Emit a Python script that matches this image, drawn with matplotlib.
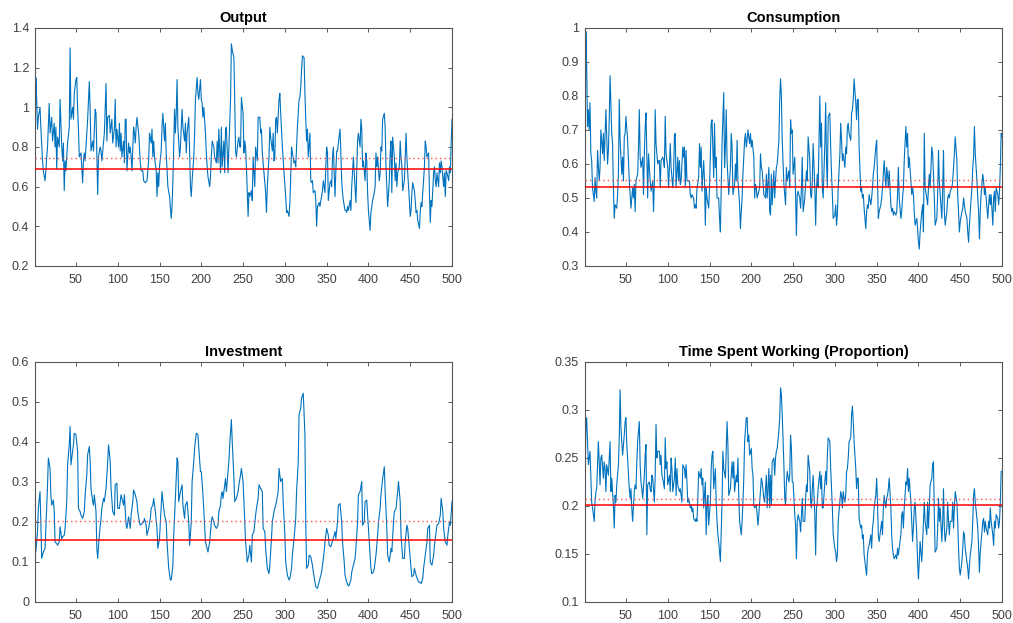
import matplotlib
matplotlib.use("Agg")
import matplotlib.pyplot as plt
from matplotlib.ticker import FuncFormatter

plt.rcParams['font.family'] = ['Liberation Sans', 'DejaVu Sans']

# ---------------- data (period, value) ----------------
output_pts = [
(1,0.72),(2,1.15),(3,1.04),(4,0.89),(5,0.95),(7,1.00),(8,0.90),(10,0.73),(11,0.68),(13,0.63),(14,0.68),(15,0.75),(16,0.80),(18,1.02),(19,0.87),(21,0.95),(22,0.83),(24,0.92),(25,0.80),(26,0.90),(27,0.69),(28,0.85),(30,0.80),(31,1.04),(33,0.80),(34,0.73),(35,0.82),(36,0.58),(37,0.73),(38,0.68),(40,0.82),(42,0.90),(43,1.30),(44,0.94),(46,1.00),(47,0.94),(48,1.07),(50,1.14),(51,1.15),(52,0.99),(53,0.89),(54,0.75),(56,0.77),(58,0.62),(59,0.73),(60,0.77),(61,0.73),(62,0.80),(64,0.94),(66,1.13),(67,0.99),(68,0.78),(70,0.83),(71,0.78),(73,0.99),(74,0.97),(76,0.56),(77,0.75),(79,0.80),(80,0.78),(81,0.73),(83,0.82),(84,0.87),(86,1.12),(87,0.83),(88,0.95),(90,0.96),(91,0.87),(93,0.94),(94,0.82),(96,0.89),(97,1.04),(98,0.80),(99,0.89),(101,0.80),(102,0.92),(103,0.78),(104,0.87),(105,0.75),(107,0.83),(108,0.72),(109,0.94),(110,0.94),(111,0.68),(113,0.82),(114,0.77),(115,0.80),(116,0.75),(117,0.68),(119,0.90),(120,0.87),(121,0.82),(122,0.90),(123,0.95),(125,0.87),(126,0.80),(127,0.72),(128,0.68),(130,0.68),(131,0.63),(133,0.62),(135,0.63),(136,0.68),(137,0.73),(138,0.87),(140,0.82),(141,0.89),(142,0.75),(143,0.83),(144,0.75),(146,0.68),(147,0.55),(148,0.67),(149,0.60),(150,0.70),(152,0.78),(153,0.90),(154,0.97),(156,0.83),(157,0.92),(158,0.77),(159,0.68),(160,0.60),(162,0.55),(163,0.50),(164,0.44),(165,0.50),(166,0.63),(168,0.99),(169,0.87),(170,0.97),(171,1.14),(172,0.90),(174,0.75),(175,0.80),(176,0.90),(177,0.99),(178,0.90),(180,0.83),(181,0.92),(182,0.77),(183,0.87),(185,0.95),(186,0.77),(187,0.60),(188,0.55),(189,0.63),(191,0.75),(192,0.87),(193,1.04),(195,1.15),(196,1.07),(197,1.04),(199,1.14),(200,1.04),(201,1.02),(202,0.95),(203,1.00),(205,0.87),(206,0.77),(207,0.70),(208,0.65),(210,0.60),(211,0.65),(212,0.75),(213,0.83),(215,0.80),(216,0.75),(218,0.72),(219,0.83),(220,0.72),(221,0.89),(223,0.67),(224,0.90),(225,0.70),(227,0.83),(228,0.67),(229,0.89),(230,0.90),(232,0.67),(234,0.92),(235,1.04),(236,1.32),(237,1.29),(239,1.25),(240,1.04),(241,0.78),(242,0.75),(244,0.83),(245,0.85),(246,0.80),(247,0.80),(248,1.05),(250,0.97),(251,0.77),(252,0.83),(253,0.80),(254,0.70),(256,0.45),(257,0.57),
(258,0.55),(260,0.58),(261,0.53),(262,0.75),(264,0.60),(265,0.80),(267,0.73),(268,0.95),(270,0.95),(271,0.87),(272,0.89),(273,0.77),(275,0.67),(277,0.57),(278,0.47),(279,0.60),(281,0.75),(282,0.90),(283,0.85),(285,0.78),(286,0.87),(287,0.73),(288,0.75),(289,0.94),(290,0.95),(291,0.87),(293,1.04),(294,1.07),(295,0.97),(296,0.89),(297,0.80),(299,0.67),(301,0.55),(302,0.47),(303,0.48),(305,0.45),(306,0.52),(307,0.65),(308,0.80),(309,0.77),(311,0.72),(312,0.73),(313,0.70),(314,0.80),(315,0.90),(317,1.04),(318,1.05),(319,1.10),(320,1.19),(321,1.26),(323,1.25),(324,1.07),(325,0.94),(326,0.83),(327,0.89),(328,0.75),(330,0.87),(331,0.63),(332,0.62),(333,0.63),(334,0.57),(336,0.58),(337,0.53),(338,0.40),(339,0.50),(341,0.52),(342,0.50),(343,0.53),(344,0.55),(345,0.58),(346,0.63),(348,0.57),(349,0.70),(350,0.80),(351,0.77),(352,0.53),(354,0.62),(355,0.63),(356,0.60),(357,0.75),(358,0.80),(360,0.55),(361,0.68),(362,0.78),(363,0.78),(364,0.82),(366,0.89),(367,0.77),(368,0.63),(369,0.57),(370,0.53),(372,0.48),(373,0.48),(374,0.47),(375,0.50),(376,0.48),(378,0.53),(379,0.48),(380,0.60),(381,0.68),(382,0.75),(384,0.60),(385,0.52),(386,0.68),(387,0.83),(388,0.87),(390,0.80),(391,0.94),(392,0.89),(393,0.70),(394,0.73),(396,0.63),(397,0.77),(398,0.73),(399,0.57),(400,0.48),(402,0.38),(403,0.47),(404,0.50),(405,0.53),(407,0.57),(408,0.60),(409,0.77),(410,0.70),(411,0.75),(413,0.63),(414,0.67),(415,0.80),(416,0.78),(417,0.94),(419,0.97),(420,0.90),(421,0.70),(422,0.60),(423,0.50),(425,0.63),(426,0.77),(427,0.83),(428,0.57),(429,0.85),(431,0.75),(432,0.63),(433,0.72),(434,0.60),(435,0.67),(437,0.70),(438,0.83),(439,0.75),(440,0.70),(441,0.58),(443,0.63),(444,0.75),(445,0.87),(446,0.75),(447,0.67),(449,0.53),(450,0.45),(451,0.48),(452,0.57),(453,0.62),(455,0.58),(456,0.53),(457,0.47),(458,0.48),(459,0.43),(461,0.39),(462,0.47),(463,0.52),(464,0.50),(465,0.57),(467,0.70),(468,0.83),(469,0.80),(470,0.75),(472,0.77),(473,0.57),(474,0.42),(475,0.53),(476,0.50),(478,0.67),(479,0.70),(480,0.63),(481,0.60),(482,0.67),(484,0.60),(485,0.72),(486,0.67),(487,0.73),(488,0.70),(490,0.60),(491,0.67),(492,0.55),(493,0.68),(494,0.67),(496,0.63),(497,0.70),(498,0.67),(499,0.82),(500,0.94)]

consumption_pts = [
(1,0.54),(2,0.99),(3,0.89),(4,0.71),(5,0.76),(6,0.70),(7,0.78),(8,0.63),(9,0.61),(10,0.53),(12,0.49),(13,0.56),(14,0.52),(15,0.50),(16,0.64),(18,0.55),(19,0.59),(20,0.70),(22,0.63),(23,0.69),(24,0.61),(25,0.69),(26,0.76),(28,0.60),(29,0.64),(30,0.73),(31,0.86),(33,0.69),(34,0.66),(35,0.53),(36,0.44),(37,0.48),(39,0.47),(40,0.51),(41,0.57),(42,0.79),(43,0.67),(45,0.57),(46,0.62),(47,0.55),(48,0.68),(49,0.69),(50,0.74),(52,0.67),(53,0.61),(54,0.55),(55,0.51),(56,0.47),(58,0.53),(59,0.50),(60,0.54),(61,0.46),(62,0.55),(64,0.57),(65,0.65),(66,0.76),(67,0.62),(68,0.59),(70,0.62),(71,0.51),(72,0.63),(73,0.71),(74,0.75),(76,0.50),(77,0.63),(78,0.59),(79,0.55),(80,0.52),(82,0.55),(83,0.46),(84,0.55),(85,0.76),(86,0.66),(88,0.60),(89,0.61),(90,0.61),(91,0.53),(92,0.61),(94,0.62),(95,0.61),(96,0.59),(97,0.74),(98,0.63),(100,0.59),(101,0.53),(102,0.59),(103,0.66),(104,0.59),(106,0.53),(107,0.58),(108,0.68),(109,0.69),(110,0.53),(112,0.62),(113,0.55),(114,0.61),(115,0.54),(116,0.55),(118,0.65),(119,0.62),(120,0.65),(121,0.53),(122,0.64),(123,0.55),(125,0.55),(126,0.55),(127,0.51),(128,0.50),(129,0.51),(131,0.50),(132,0.47),(133,0.48),(134,0.47),(135,0.53),(137,0.56),(138,0.66),(139,0.59),(140,0.65),(141,0.52),(143,0.61),(144,0.55),(145,0.42),(146,0.53),(147,0.50),(149,0.47),(150,0.53),(151,0.62),(152,0.72),(153,0.73),(155,0.56),(156,0.72),(157,0.59),(158,0.62),(159,0.50),(161,0.50),(162,0.44),(163,0.40),(164,0.53),(165,0.66),(167,0.81),(168,0.59),(169,0.65),(170,0.76),(171,0.61),(173,0.51),(174,0.55),(175,0.59),(176,0.69),(177,0.65),(178,0.51),(180,0.54),(181,0.60),(182,0.55),(183,0.67),(184,0.55),(186,0.48),(187,0.41),(188,0.46),(189,0.50),(190,0.57),(192,0.67),(193,0.69),(194,0.65),(195,0.67),(196,0.70),(198,0.66),(199,0.69),(200,0.65),(201,0.67),(203,0.62),(204,0.50),(205,0.54),(206,0.53),(207,0.50),(208,0.51),(210,0.53),(211,0.63),(212,0.59),
(213,0.58),(215,0.51),(217,0.50),(218,0.57),(219,0.50),(221,0.59),(222,0.46),(223,0.45),(224,0.57),(225,0.48),(227,0.58),(228,0.50),(229,0.55),(230,0.59),(231,0.60),(233,0.67),(234,0.79),(235,0.85),(236,0.80),(237,0.67),(239,0.54),(240,0.51),(241,0.48),(242,0.59),(243,0.55),(245,0.58),(246,0.53),(247,0.73),(248,0.69),(249,0.70),(250,0.57),(252,0.62),(253,0.50),(254,0.39),(255,0.51),(256,0.52),(258,0.50),(259,0.47),(260,0.53),(261,0.62),(262,0.46),(264,0.50),(265,0.54),(266,0.58),(267,0.55),(268,0.68),(270,0.61),(271,0.51),(272,0.50),(273,0.55),(274,0.66),(276,0.53),(277,0.42),(278,0.53),(279,0.57),(280,0.53),(282,0.80),(283,0.65),(284,0.72),(285,0.53),(286,0.50),(288,0.66),(289,0.78),(290,0.61),(291,0.53),(292,0.74),(294,0.75),(295,0.65),(296,0.57),(297,0.51),(298,0.44),(300,0.45),(301,0.48),(302,0.42),(303,0.45),(304,0.53),(306,0.63),(307,0.72),(308,0.67),(309,0.61),(310,0.63),(312,0.59),(313,0.65),(314,0.63),(315,0.71),(316,0.72),(317,0.69),(319,0.67),(320,0.75),(321,0.76),(322,0.79),(323,0.85),(325,0.78),(326,0.73),(327,0.79),(328,0.79),(329,0.65),(331,0.52),(332,0.53),(333,0.50),(334,0.51),(335,0.47),(337,0.41),(338,0.46),(339,0.48),(340,0.47),(341,0.51),(343,0.48),(344,0.50),(345,0.53),(346,0.57),(347,0.59),(349,0.65),(350,0.67),(351,0.55),(352,0.44),(353,0.46),(355,0.48),(356,0.50),(357,0.53),(358,0.57),(359,0.61),(361,0.53),(362,0.59),(363,0.57),(364,0.53),(365,0.58),(367,0.48),(368,0.46),(369,0.47),(370,0.45),(371,0.46),(373,0.45),(374,0.46),(375,0.51),(376,0.59),(377,0.50),(379,0.44),(380,0.46),(381,0.50),(382,0.53),(383,0.61),(385,0.71),(386,0.65),(387,0.69),(388,0.59),(389,0.62),(391,0.55),(392,0.51),(393,0.53),(394,0.51),(395,0.46),(396,0.42),(398,0.44),(399,0.41),(400,0.37),(401,0.35),(402,0.40),(404,0.46),(405,0.48),(406,0.40),(407,0.69),(408,0.53),(410,0.50),(411,0.48),(412,0.53),(413,0.57),(414,0.53),(416,0.65),(417,0.63),(418,0.57),(419,0.50),(420,0.42),(422,0.44),(423,0.51),(424,0.64),(425,0.55),(426,0.51),(428,0.44),(429,0.53),(430,0.64),(431,0.46),(432,0.42),(434,0.46),(435,0.50),(436,0.51),(437,0.50),(438,0.52),(440,0.53),(441,0.55),(442,0.59),(443,0.63),(444,0.68),(446,0.61),(447,0.51),(448,0.46),(449,0.40),(450,0.43),(452,0.46),(453,0.47),(454,0.50),(455,0.48),(456,0.46),(458,0.44),(459,0.40),(460,0.37),(461,0.42),(462,0.46),(464,0.53),(465,0.59),(466,0.62),(467,0.71),(468,0.63),(470,0.55),(471,0.50),(472,0.46),(473,0.38),(474,0.46),(475,0.51),(477,0.57),(478,0.55),(479,0.51),(480,0.53),(481,0.50),(483,0.44),(484,0.48),(485,0.51),(486,0.48),(487,0.51),(489,0.42),(490,0.50),(491,0.52),(492,0.46),(493,0.53),(495,0.51),(496,0.48),(497,0.52),(498,0.59),(499,0.69),(500,0.68)]

investment_pts = [
(1,0.159),(2,0.125),(4,0.176),(5,0.234),(7,0.276),(8,0.200),(9,0.109),(11,0.125),(13,0.134),(14,0.184),(16,0.293),(17,0.360),(19,0.334),(20,0.268),(21,0.242),(23,0.255),(24,0.226),(25,0.150),(27,0.146),(28,0.142),(30,0.150),(31,0.188),(33,0.159),(34,0.163),(36,0.167),(37,0.184),(39,0.251),(40,0.343),(42,0.393),(43,0.439),(44,0.343),(45,0.360),(47,0.393),(48,0.422),(50,0.418),(52,0.376),(53,0.234),(55,0.226),(56,0.217),(58,0.209),(60,0.226),(61,0.268),(63,0.318),(64,0.368),(66,0.389),(67,0.351),(68,0.284),(70,0.251),(71,0.242),(72,0.268),(74,0.226),(75,0.134),(76,0.109),(78,0.167),(80,0.209),(81,0.234),(83,0.259),(84,0.251),(86,0.284),(88,0.351),(89,0.393),(91,0.351),(92,0.284),(94,0.226),(96,0.217),(97,0.293),(99,0.297),(100,0.234),(102,0.234),(104,0.268),(105,0.259),(107,0.242),(108,0.268),(110,0.192),(111,0.184),(113,0.213),(115,0.184),(116,0.217),(118,0.251),(119,0.280),(121,0.268),(123,0.251),(124,0.226),(126,0.200),(127,0.192),(129,0.196),(131,0.200),(132,0.209),(134,0.192),(135,0.167),(137,0.184),(139,0.209),(140,0.234),(142,0.242),(143,0.259),(145,0.226),(147,0.184),(148,0.134),(150,0.159),(151,0.200),(153,0.276),(155,0.234),(156,0.217),(158,0.200),(159,0.150),(161,0.084),(163,0.055),(164,0.055),(166,0.092),(167,0.167),(169,0.259),(171,0.360),(172,0.351),(173,0.251),(175,0.276),(177,0.293),(178,0.242),(180,0.209),(181,0.242),(183,0.251),(185,0.200),(186,0.142),(188,0.200),(189,0.301),(191,0.351),(192,0.384),(194,0.422),(196,0.418),(197,0.384),(199,0.326),(200,0.326),(202,0.268),(204,0.192),(205,0.150),(207,0.134),(208,0.125),(210,0.150),(212,0.200),(213,0.213),(215,0.200),(216,0.192),(218,0.184),(220,0.192),(221,0.226),(223,0.242),(224,0.268),(225,0.276),(226,0.259),(228,0.293),(229,0.309),(230,0.276),(231,0.301),(233,0.351),(234,0.393),(236,0.456),(237,0.401),(239,0.309),(240,0.251),(242,0.259),(244,0.276),(245,0.293),
(247,0.318),(248,0.334),(250,0.301),(251,0.251),(252,0.200),(253,0.150),(255,0.100),(257,0.117),(258,0.142),(260,0.100),(261,0.167),(263,0.176),(265,0.217),(266,0.234),(268,0.259),(269,0.293),(271,0.284),(273,0.276),(274,0.184),(276,0.176),(277,0.134),(279,0.084),(281,0.071),(282,0.092),(284,0.159),(285,0.200),(287,0.226),(289,0.242),(290,0.251),(292,0.276),(293,0.334),(295,0.301),(297,0.309),(298,0.251),(300,0.167),(301,0.100),(303,0.067),(305,0.055),(306,0.059),(308,0.084),(309,0.117),(311,0.159),(313,0.209),(314,0.276),(316,0.351),(317,0.468),(319,0.485),(320,0.510),(322,0.522),(324,0.418),(325,0.200),(326,0.084),(328,0.092),(329,0.117),(331,0.113),(333,0.092),(334,0.075),(336,0.050),(337,0.038),(339,0.034),(340,0.042),(342,0.059),(344,0.075),(345,0.092),(347,0.125),(348,0.150),(350,0.184),(352,0.167),(353,0.142),(355,0.138),(356,0.146),(358,0.159),(360,0.176),(361,0.159),(363,0.200),(364,0.242),(366,0.246),(368,0.200),(369,0.150),(371,0.100),(372,0.067),(374,0.050),(376,0.040),(377,0.042),(379,0.055),(380,0.075),(382,0.092),(384,0.109),(385,0.134),(387,0.200),(388,0.268),(390,0.276),(392,0.301),(393,0.192),(395,0.200),(396,0.251),(398,0.255),(399,0.217),(401,0.150),(403,0.084),(404,0.071),(406,0.075),(407,0.084),(409,0.117),(411,0.167),(412,0.200),(414,0.234),(415,0.268),(417,0.309),(419,0.338),(420,0.276),(422,0.184),(423,0.117),(425,0.100),(427,0.134),(428,0.125),(430,0.200),(431,0.226),(433,0.234),(435,0.276),(436,0.301),(438,0.251),(439,0.167),(441,0.109),(443,0.109),(444,0.150),(446,0.192),(447,0.184),(449,0.134),(451,0.084),(452,0.063),(454,0.067),(455,0.084),(457,0.067),(459,0.055),(460,0.050),(462,0.049),(463,0.046),(465,0.059),(466,0.084),(468,0.117),(470,0.150),(471,0.184),(473,0.192),(474,0.100),(476,0.092),(478,0.117),(479,0.142),(481,0.176),(482,0.192),(484,0.196),(486,0.217),(487,0.259),(489,0.226),(490,0.184),(492,0.150),(494,0.142),(495,0.167),(497,0.200),(498,0.192),(500,0.251)]

labor_pts = [
(1,0.215),(2,0.281),(3,0.292),(5,0.243),(6,0.250),(7,0.257),(8,0.229),(9,0.204),(10,0.198),(12,0.184),(13,0.204),(14,0.215),(15,0.218),(17,0.267),(18,0.246),(19,0.222),(20,0.250),(21,0.253),(23,0.229),(24,0.246),(25,0.239),(26,0.215),(27,0.243),(29,0.232),(30,0.250),(31,0.267),(32,0.215),(33,0.229),(35,0.201),(36,0.177),(37,0.211),(38,0.204),(39,0.222),(41,0.243),(42,0.271),(43,0.321),(44,0.281),(45,0.267),(46,0.253),(48,0.274),(49,0.288),(50,0.292),(51,0.264),(53,0.232),(54,0.218),(55,0.208),(56,0.218),(57,0.198),(58,0.184),(60,0.215),(61,0.222),(62,0.218),(63,0.246),(64,0.267),(66,0.288),(67,0.243),(68,0.225),(69,0.218),(70,0.208),(72,0.232),(73,0.253),(74,0.264),(75,0.170),(76,0.222),(78,0.225),(79,0.218),(80,0.215),(81,0.232),(82,0.229),(84,0.204),(85,0.232),(86,0.285),(87,0.250),(88,0.257),(90,0.257),(91,0.243),(92,0.253),(93,0.232),(94,0.229),(96,0.218),(97,0.271),(98,0.239),(99,0.246),(100,0.222),(102,0.232),(103,0.215),(104,0.250),(105,0.239),(106,0.215),(108,0.229),(109,0.250),(110,0.211),(111,0.239),(112,0.222),(114,0.215),(115,0.218),(116,0.211),(117,0.204),(118,0.243),(120,0.239),(121,0.229),(122,0.243),(123,0.225),(124,0.204),(125,0.208),(127,0.198),(128,0.201),(129,0.194),(130,0.198),(131,0.187),(133,0.184),(134,0.187),(135,0.184),(136,0.208),(137,0.236),(139,0.229),(140,0.239),(141,0.222),(142,0.229),(143,0.198),(145,0.225),(146,0.170),(147,0.201),(148,0.211),(149,0.180),(151,0.204),(152,0.239),(153,0.253),(154,0.257),(155,0.218),(157,0.239),(158,0.204),(159,0.184),(160,0.170),(161,0.163),(163,0.142),(164,0.173),(165,0.204),(166,0.257),(167,0.239),(169,0.229),(170,0.257),(171,0.288),(172,0.264),(173,0.211),(175,0.218),(176,0.232),(177,0.246),(178,0.229),(179,0.246),(180,0.215),(182,0.232),(183,0.225),(184,0.250),(185,0.211),(186,0.184),(188,0.170),(189,0.184),(190,0.204),(191,0.229),(192,0.267),(194,0.292),(195,0.292),(196,0.267),(197,0.274),(198,0.253),(200,0.260),(201,0.239),(202,0.232),(203,0.201),(204,0.198),(206,0.201),(207,0.191),(208,0.180),(209,0.191),(210,0.204),(212,0.229),
(213,0.225),(215,0.208),(216,0.204),(218,0.232),(219,0.198),(221,0.239),(222,0.198),(223,0.232),(224,0.201),(225,0.246),(227,0.250),(228,0.232),(229,0.250),(230,0.257),(231,0.260),(233,0.278),(234,0.292),(235,0.323),(236,0.316),(237,0.295),(239,0.243),(240,0.208),(241,0.201),(242,0.225),(243,0.236),(245,0.225),(246,0.232),(247,0.274),(248,0.260),(249,0.225),(250,0.225),(252,0.191),(253,0.180),(254,0.145),(255,0.184),(256,0.191),(258,0.184),(259,0.173),(260,0.191),(261,0.208),(262,0.184),(264,0.184),(265,0.208),(266,0.222),(267,0.215),(268,0.253),(270,0.236),(271,0.204),(272,0.198),(273,0.218),(274,0.232),(276,0.191),(277,0.149),(278,0.198),(279,0.204),(280,0.218),(282,0.236),(283,0.218),(284,0.232),(285,0.198),(286,0.198),(288,0.225),(289,0.236),(290,0.222),(291,0.253),(292,0.271),(294,0.267),(295,0.239),(296,0.218),(297,0.198),(298,0.170),(300,0.156),(301,0.152),(302,0.142),(303,0.149),(304,0.184),(306,0.204),(307,0.215),(308,0.211),(309,0.198),(310,0.215),(312,0.204),(313,0.211),(314,0.236),(315,0.239),(316,0.250),(317,0.267),(319,0.271),(320,0.295),(321,0.304),(322,0.288),(323,0.267),(325,0.239),(326,0.218),(327,0.229),(328,0.229),(329,0.187),(331,0.177),(332,0.180),(333,0.166),(334,0.170),(335,0.149),(337,0.135),(338,0.128),(339,0.149),(340,0.156),(341,0.159),(343,0.170),(344,0.156),(345,0.177),(346,0.184),(347,0.198),(349,0.211),(350,0.229),(351,0.204),(352,0.170),(353,0.163),(355,0.177),(356,0.184),(357,0.170),(358,0.198),(359,0.211),(361,0.198),(362,0.208),(363,0.211),(364,0.218),(365,0.229),(367,0.198),(368,0.170),(369,0.156),(370,0.149),(371,0.145),(373,0.149),(374,0.145),(375,0.156),(376,0.149),(377,0.156),(379,0.170),(380,0.191),(381,0.194),(382,0.177),(383,0.198),(385,0.225),(386,0.222),(387,0.239),(388,0.215),(389,0.229),(391,0.204),(392,0.184),(393,0.163),(394,0.177),(395,0.198),(396,0.204),(398,0.170),(399,0.142),(400,0.124),(401,0.142),(402,0.163),(404,0.142),(405,0.163),(406,0.184),(407,0.204),(408,0.184),(410,0.170),(411,0.204),(412,0.177),(413,0.198),(414,0.222),(416,0.229),(417,0.243),(418,0.246),(419,0.191),(420,0.152),(422,0.156),(423,0.177),(424,0.208),(425,0.184),(426,0.198),(428,0.163),(429,0.184),(430,0.218),(431,0.177),(432,0.163),(434,0.177),(435,0.204),(436,0.184),(437,0.170),(438,0.184),(440,0.184),(441,0.204),(442,0.177),(443,0.198),(444,0.215),(446,0.204),(447,0.184),(448,0.156),(449,0.135),(450,0.128),(452,0.142),(453,0.156),(454,0.173),(455,0.170),(456,0.156),(458,0.142),(459,0.135),(460,0.124),(461,0.138),(462,0.149),(464,0.163),(465,0.184),(466,0.211),(467,0.218),(468,0.204),(470,0.187),(471,0.177),(472,0.156),(473,0.131),(474,0.152),(475,0.163),(477,0.184),(478,0.187),(479,0.173),(480,0.184),(481,0.177),(483,0.170),(484,0.184),(485,0.177),(486,0.198),(487,0.184),(489,0.170),(490,0.159),(491,0.184),(492,0.177),(493,0.191),(495,0.187),(496,0.177),(497,0.184),(498,0.204),(499,0.236),(500,0.236)]

titles = ["Output", "Consumption", "Investment", "Time Spent Working (Proportion)"]
steady_state = [0.688, 0.532, 0.156, 0.201]      # solid red lines
sample_mean = [0.747, 0.554, 0.202, 0.207]       # dotted red lines
y_limits = [(0.2, 1.4), (0.3, 1.0), (0.0, 0.6), (0.1, 0.35)]
y_ticks = [[0.2, 0.4, 0.6, 0.8, 1.0, 1.2, 1.4],
           [0.3, 0.4, 0.5, 0.6, 0.7, 0.8, 0.9, 1.0],
           [0.0, 0.1, 0.2, 0.3, 0.4, 0.5, 0.6],
           [0.1, 0.15, 0.2, 0.25, 0.3, 0.35]]
x_ticks = [50, 100, 150, 200, 250, 300, 350, 400, 450, 500]
n_periods = 500

series = [output_pts, consumption_pts, investment_pts, labor_pts]

# ---------------- figure ----------------
W, H = 1013, 623
fig = plt.figure(figsize=(W / 100, H / 100), dpi=100)
boxes = [(35, 28, 417, 238), (585, 28, 417, 238),
         (35, 362, 417, 240), (585, 362, 417, 240)]

axcol = '#404040'
fmt = FuncFormatter(lambda v, _: f"{v:g}")

for i, (l, t, w, h) in enumerate(boxes):
    ax = fig.add_axes([l / W, 1 - (t + h) / H, w / W, h / H])
    xs, ys = zip(*series[i])
    ax.plot(xs, ys, color='#0072BD', lw=0.8, zorder=2)
    ax.axhline(steady_state[i], color='#ff0000', lw=1.1, zorder=3)
    ax.axhline(sample_mean[i], color='#ff5050', lw=1.0, ls=(0, (1, 2.2)), zorder=3)
    ax.set_xlim(1, n_periods)
    ax.set_ylim(*y_limits[i])
    ax.set_xticks(x_ticks)
    ax.set_yticks(y_ticks[i])
    ax.yaxis.set_major_formatter(fmt)
    ax.tick_params(direction='in', top=True, right=True, length=3.2, width=0.6,
                   color=axcol, labelcolor=axcol, labelsize=9)
    ax.tick_params(axis='x', pad=5.5)
    ax.tick_params(axis='y', pad=4.3)
    for sp in ax.spines.values():
        sp.set_color('#555555')
        sp.set_linewidth(0.8)
    ax.set_title(titles[i], fontsize=10.5, fontweight='bold', color='black', pad=4.5)

fig.savefig("out.png", dpi=100)
